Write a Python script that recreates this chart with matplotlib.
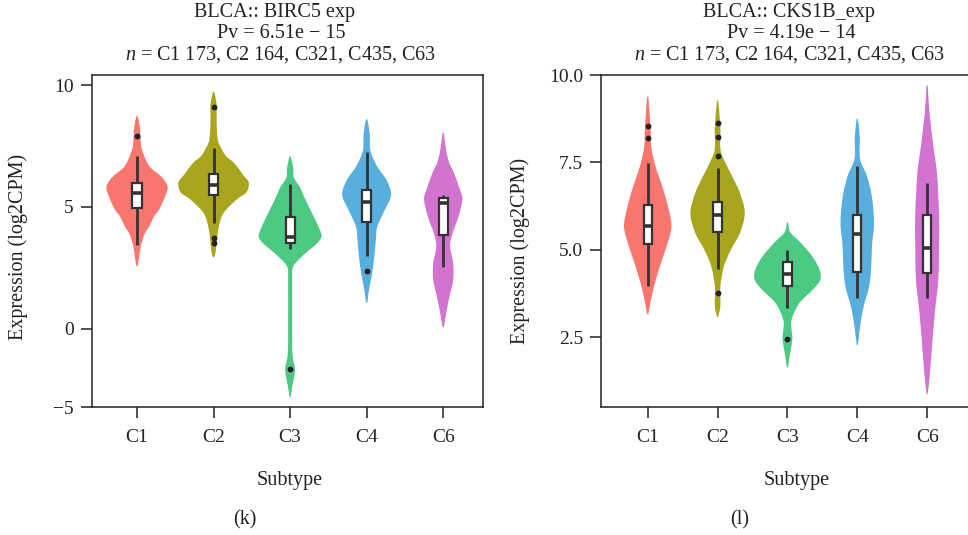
import matplotlib
matplotlib.use("Agg")
import matplotlib.pyplot as plt
from matplotlib.patches import Rectangle, PathPatch
from matplotlib.path import Path

plt.rcParams['font.family'] = ['Liberation Serif', 'DejaVu Serif']
plt.rcParams['mathtext.fontset'] = 'custom'
plt.rcParams['mathtext.rm'] = 'Liberation Serif'
plt.rcParams['mathtext.it'] = 'Liberation Serif:italic'

categories = ['C1', 'C2', 'C3', 'C4', 'C6']
colors = ['#F8766D', '#A8A61E', '#4CC983', '#58AEDD', '#D273CF']

# ---------------- Panel (k): BIRC5 ----------------
k_title = ['BLCA:: BIRC5 exp', 'Pv = 6.51e \u2212 15', '$n$ = C1 173, C2 164, C321, C435, C63']
# violin density profiles: y levels and half-widths (x-axis units)
k_vy = [
    [8.7, 8.2, 7.6, 7.3, 6.9, 6.6, 6.2, 5.8, 5.3, 4.9, 4.6, 4.2, 3.9, 3.4, 3.0, 2.6],
    [9.7, 9.2, 8.5, 7.9, 7.6, 7.1, 6.8, 6.3, 6.0, 5.6, 5.3, 4.75, 4.2, 3.55, 3.2, 2.95],
    [7.05, 6.6, 6.2, 5.8, 5.3, 4.6, 4.05, 3.77, 3.5, 3.1, 2.7, 2.45, 2.0, 0.0, -1.0, -1.4, -1.68, -2.0, -2.4, -2.8],
    [8.57, 8.0, 7.3, 6.65, 6.1, 5.5, 4.9, 4.2, 3.65, 2.96, 2.25, 1.6, 1.1],
    [8.0, 7.3, 6.8, 6.4, 5.7, 5.3, 4.6, 3.9, 3.37, 2.7, 2.0, 1.3, 0.65, 0.1],
]
k_vw = [
    [0.01, 0.04, 0.05, 0.07, 0.12, 0.18, 0.33, 0.40, 0.35, 0.29, 0.22, 0.16, 0.10, 0.05, 0.03, 0.01],
    [0.01, 0.04, 0.04, 0.05, 0.07, 0.16, 0.27, 0.39, 0.46, 0.43, 0.30, 0.13, 0.07, 0.04, 0.03, 0.01],
    [0.01, 0.04, 0.05, 0.13, 0.20, 0.31, 0.39, 0.41, 0.35, 0.20, 0.07, 0.03, 0.026, 0.026, 0.03, 0.05, 0.065, 0.05, 0.026, 0.006],
    [0.01, 0.04, 0.05, 0.14, 0.26, 0.32, 0.24, 0.14, 0.12, 0.10, 0.07, 0.03, 0.01],
    [0.01, 0.04, 0.08, 0.14, 0.22, 0.25, 0.20, 0.12, 0.09, 0.13, 0.13, 0.08, 0.04, 0.01],
]
k_wlo = [3.45, 4.33, 3.28, 3.0, 2.55]
k_q1 = [4.95, 5.5, 3.53, 4.4, 3.85]
k_med = [5.57, 5.9, 3.78, 5.2, 5.15]
k_q3 = [6.0, 6.35, 4.6, 5.7, 5.35]
k_whi = [7.1, 7.4, 5.93, 7.25, 5.5]
k_out = [[7.9], [9.1, 3.73, 3.53], [-1.65], [2.37], []]
k_yticks = [10, 5, 0]
k_yticklabels = ['10', '5', '0']

# ---------------- Panel (l): CKS1B ----------------
l_title = ['BLCA:: CKS1B_exp', 'Pv = 4.19e \u2212 14', '$n$ = C1 173, C2 164, C321, C435, C63']
l_vy = [
    [9.35, 8.5, 7.95, 7.4, 6.8, 6.23, 5.66, 5.1, 4.5, 3.95, 3.5, 3.17],
    [9.24, 8.5, 7.9, 7.58, 7.1, 6.62, 6.05, 5.48, 5.0, 4.52, 3.95, 3.4, 3.09],
    [5.77, 5.5, 5.2, 4.8, 4.43, 4.14, 3.85, 3.47, 3.0, 2.7, 2.42, 1.95, 1.65],
    [8.72, 8.2, 7.6, 7.1, 6.5, 5.77, 5.1, 4.52, 3.95, 3.37, 2.8, 2.3],
    [9.67, 9.0, 7.95, 7.2, 6.05, 5.1, 4.14, 3.19, 2.23, 1.47, 0.9],
]
l_vw = [
    [0.01, 0.04, 0.05, 0.11, 0.21, 0.29, 0.34, 0.27, 0.17, 0.09, 0.04, 0.01],
    [0.01, 0.04, 0.04, 0.09, 0.21, 0.32, 0.39, 0.32, 0.19, 0.09, 0.04, 0.04, 0.01],
    [0.01, 0.04, 0.19, 0.36, 0.46, 0.47, 0.36, 0.17, 0.06, 0.06, 0.07, 0.03, 0.01],
    [0.01, 0.036, 0.04, 0.14, 0.21, 0.24, 0.21, 0.20, 0.17, 0.09, 0.04, 0.01],
    [0.01, 0.03, 0.09, 0.14, 0.17, 0.17, 0.16, 0.11, 0.07, 0.04, 0.01],
]
l_wlo = [3.97, 4.46, 3.34, 3.62, 3.62]
l_q1 = [5.17, 5.52, 3.97, 4.35, 4.33]
l_med = [5.69, 6.0, 4.31, 5.45, 5.06]
l_q3 = [6.29, 6.38, 4.66, 6.0, 6.0]
l_whi = [7.49, 7.35, 5.0, 7.4, 6.92]
l_out = [[8.53, 8.2], [8.64, 8.24, 7.67, 3.77], [2.45], [], []]
l_yticks = [10.0, 7.5, 5.0, 2.5]
l_yticklabels = ['10.0', '7.5', '5.0', '2.5']

W, H = 968, 535
fig = plt.figure(figsize=(W / 100, H / 100), dpi=100)

def px_axes(l, r, t, b):
    return fig.add_axes([l / W, 1 - b / H, (r - l) / W, (b - t) / H])

FS = 14
TFS = 14.5
DARK = '#333333'

def smooth_closed_path(pts):
    """Closed Catmull-Rom curve through pts, rendered as cubic Bezier segments."""
    n = len(pts)
    verts = [pts[0]]
    codes = [Path.MOVETO]
    for i in range(n):
        p0 = pts[(i - 1) % n]
        p1 = pts[i]
        p2 = pts[(i + 1) % n]
        p3 = pts[(i + 2) % n]
        c1 = (p1[0] + (p2[0] - p0[0]) / 6, p1[1] + (p2[1] - p0[1]) / 6)
        c2 = (p2[0] - (p3[0] - p1[0]) / 6, p2[1] - (p3[1] - p1[1]) / 6)
        verts += [c1, c2, p2]
        codes += [Path.CURVE4] * 3
    return Path(verts, codes)

def draw_panel(ax, vy, vw, wlo, q1, med, q3, whi, outs, boxw):
    for i in range(len(categories)):
        ys = vy[i]
        ws = vw[i]
        right = [(i + w, y) for y, w in zip(ys, ws)]
        left = [(i - w, y) for y, w in zip(ys[::-1], ws[::-1])]
        pts = [(i, ys[0])] + right + [(i, ys[-1])] + left
        ax.add_patch(PathPatch(smooth_closed_path(pts), facecolor=colors[i],
                               edgecolor='none', zorder=2))
        ax.plot([i, i], [wlo[i], whi[i]], color=DARK, lw=2.0, zorder=3,
                solid_capstyle='butt')
        ax.add_patch(Rectangle((i - boxw / 2, q1[i]), boxw, q3[i] - q1[i],
                               facecolor='white', edgecolor=DARK, lw=1.6, zorder=4))
        ax.plot([i - boxw / 2, i + boxw / 2], [med[i], med[i]], color=DARK,
                lw=2.6, zorder=5, solid_capstyle='butt')
        if outs[i]:
            ax.plot([i] * len(outs[i]), outs[i], 'o', color='#222222',
                    markersize=3.2, zorder=6)
    ax.set_xticks(range(len(categories)))
    ax.set_xticklabels(categories)
    for s in ax.spines.values():
        s.set_linewidth(1.1)
        s.set_color('#222222')
    ax.tick_params(axis='both', length=8, width=1.1, color='#222222',
                   labelsize=FS, labelcolor='#222222')
    ax.tick_params(axis='x', pad=8)
    ax.tick_params(axis='y', pad=5)

# Panel k
axk = px_axes(92, 483, 75, 407)
draw_panel(axk, k_vy, k_vw, k_wlo, k_q1, k_med, k_q3, k_whi, k_out, 0.12)
axk.set_xlim(-0.588, 4.52)
k_ylim = (-3.2, 10.41)
axk.set_ylim(*k_ylim)
axk.set_yticks(k_yticks + [k_ylim[0]])
axk.set_yticklabels(k_yticklabels + ['\u22125'])

# Panel l
axl = px_axes(601, 990, 75, 407)
draw_panel(axl, l_vy, l_vw, l_wlo, l_q1, l_med, l_q3, l_whi, l_out, 0.12)
axl.set_xlim(-0.669, 4.90)
axl.set_ylim(0.50, 10.0)
axl.set_yticks(l_yticks)
axl.set_yticklabels(l_yticklabels)

def ftext(x, y, s, fs=FS, **kw):
    fig.text(x / W, 1 - y / H, s, ha='center', va='center', fontsize=fs,
             color='#222222', **kw)

# titles
ftext(274, 13, k_title[0], TFS); ftext(281, 34, k_title[1], TFS); ftext(281, 55, k_title[2], TFS)
ftext(789, 13, l_title[0], TFS); ftext(791, 34, l_title[1], TFS); ftext(790, 55, l_title[2], TFS)

# axis labels
ftext(18, 247, 'Expression (log2CPM)', TFS, rotation=90)
ftext(520, 251, 'Expression (log2CPM)', TFS, rotation=90)
ftext(290, 481, 'Subtype', TFS)
ftext(797, 481, 'Subtype', TFS)
ftext(245, 520, '(k)', TFS)
ftext(740, 520, '(l)', TFS)

fig.savefig('out.png', dpi=100)
